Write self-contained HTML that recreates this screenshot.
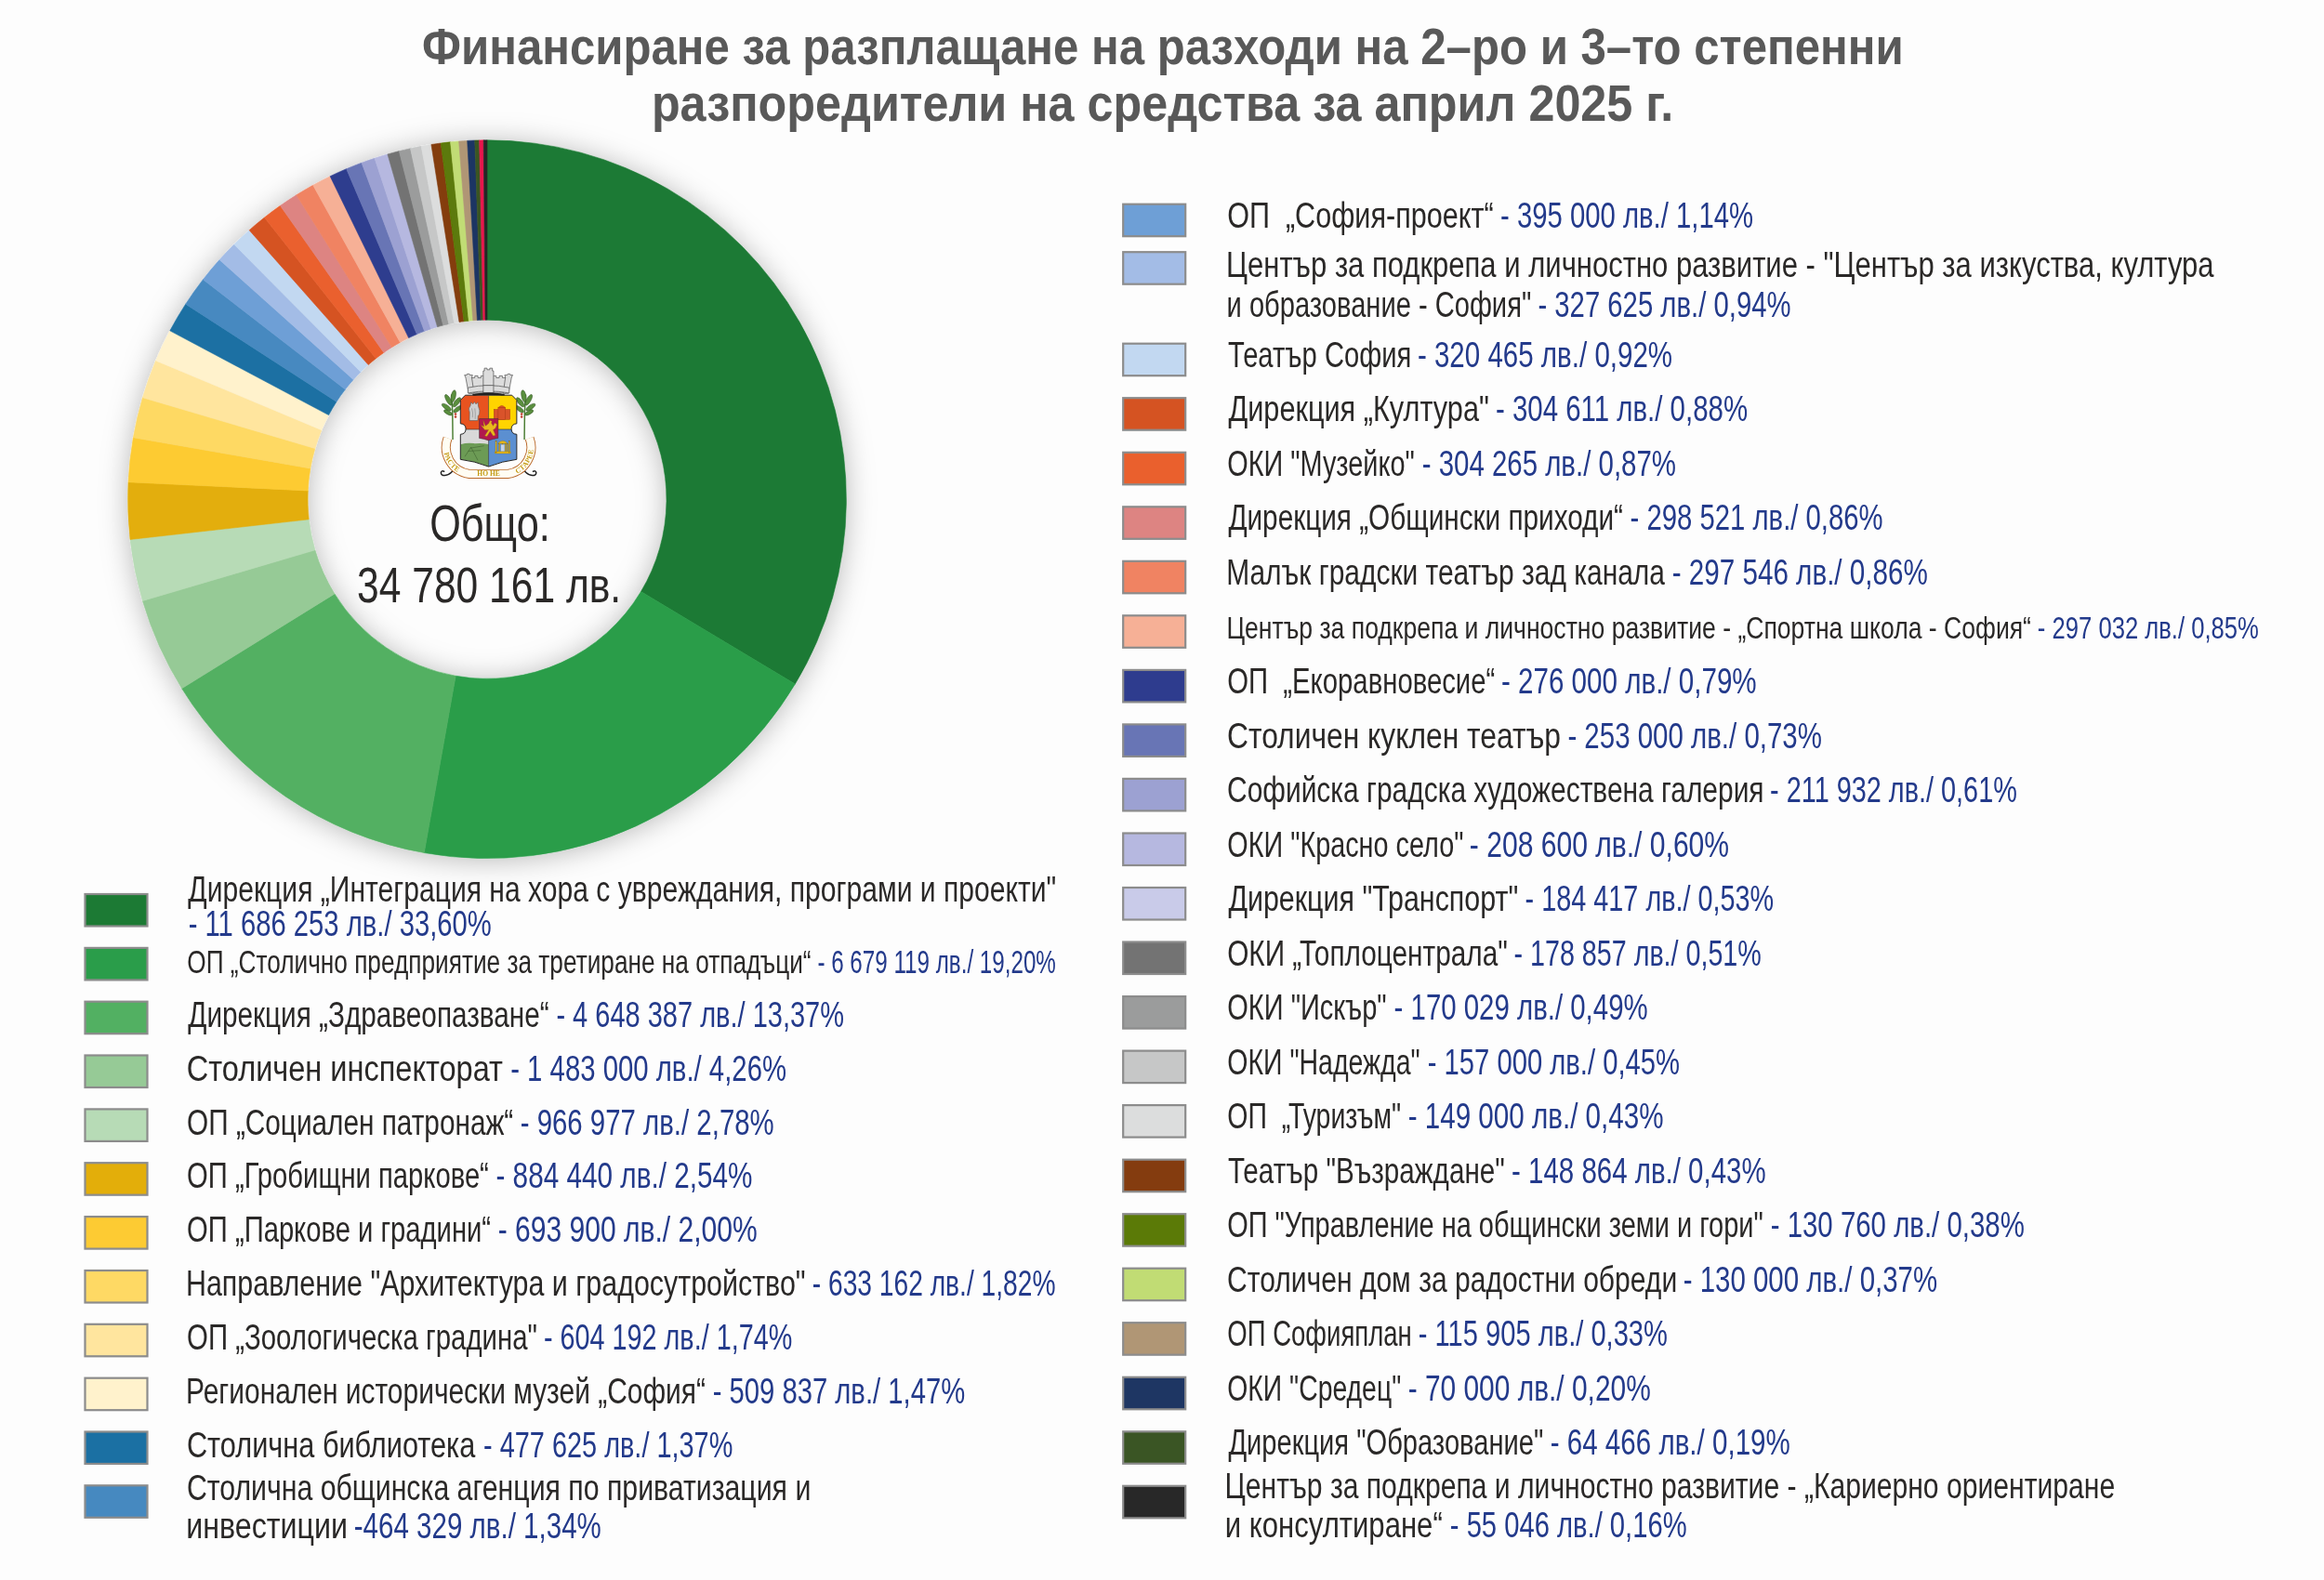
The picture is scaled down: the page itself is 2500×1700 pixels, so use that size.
<!DOCTYPE html>
<html><head><meta charset="utf-8"><title>Финансиране</title>
<style>
html,body{margin:0;padding:0;background:#fdfdfd;}
body{width:2500px;height:1700px;overflow:hidden;}
svg{display:block;font-family:"Liberation Sans",sans-serif;will-change:transform;}
</style></head><body>
<svg width="2500" height="1700" viewBox="0 0 2500 1700">
<defs>
<filter id="sh" x="-20%" y="-20%" width="140%" height="140%">
<feGaussianBlur in="SourceAlpha" stdDeviation="15"/>
<feOffset dx="0" dy="2" result="b"/>
<feFlood flood-color="#000" flood-opacity="0.27"/>
<feComposite in2="b" operator="in"/>
<feMerge><feMergeNode/><feMergeNode in="SourceGraphic"/></feMerge>
</filter>
</defs>
<rect width="2500" height="1700" fill="#fdfdfd"/>
<g filter="url(#sh)"><path d="M524.00 150.80A386.4 386.4 0 0 1 855.34 735.99L689.50 636.49A193.0 193.0 0 0 0 524.00 344.20Z" fill="#1c7a34" stroke="#1c7a34" stroke-width="0.6"/><path d="M855.34 735.99A386.4 386.4 0 0 1 456.27 917.62L490.17 727.21A193.0 193.0 0 0 0 689.50 636.49Z" fill="#2a9d4a" stroke="#2a9d4a" stroke-width="0.6"/><path d="M456.27 917.62A386.4 386.4 0 0 1 195.57 740.76L359.95 638.88A193.0 193.0 0 0 0 490.17 727.21Z" fill="#52b062" stroke="#52b062" stroke-width="0.6"/><path d="M195.57 740.76A386.4 386.4 0 0 1 153.40 646.56L338.89 591.82A193.0 193.0 0 0 0 359.95 638.88Z" fill="#96ca96" stroke="#96ca96" stroke-width="0.6"/><path d="M153.40 646.56A386.4 386.4 0 0 1 140.03 580.48L332.21 558.82A193.0 193.0 0 0 0 338.89 591.82Z" fill="#b7dbb6" stroke="#b7dbb6" stroke-width="0.6"/><path d="M140.03 580.48A386.4 386.4 0 0 1 138.04 518.84L331.22 528.03A193.0 193.0 0 0 0 332.21 558.82Z" fill="#e3ae0a" stroke="#e3ae0a" stroke-width="0.6"/><path d="M138.04 518.84A386.4 386.4 0 0 1 143.36 470.73L333.88 504.00A193.0 193.0 0 0 0 331.22 528.03Z" fill="#fdcb33" stroke="#fdcb33" stroke-width="0.6"/><path d="M143.36 470.73A386.4 386.4 0 0 1 153.43 427.72L338.91 482.52A193.0 193.0 0 0 0 333.88 504.00Z" fill="#fed964" stroke="#fed964" stroke-width="0.6"/><path d="M153.43 427.72A386.4 386.4 0 0 1 167.56 388.01L345.97 462.68A193.0 193.0 0 0 0 338.91 482.52Z" fill="#ffe59e" stroke="#ffe59e" stroke-width="0.6"/><path d="M167.56 388.01A386.4 386.4 0 0 1 182.80 355.86L353.58 446.62A193.0 193.0 0 0 0 345.97 462.68Z" fill="#fff2cc" stroke="#fff2cc" stroke-width="0.6"/><path d="M182.80 355.86A386.4 386.4 0 0 1 199.69 327.13L362.01 432.27A193.0 193.0 0 0 0 353.58 446.62Z" fill="#1b70a3" stroke="#1b70a3" stroke-width="0.6"/><path d="M199.69 327.13A386.4 386.4 0 0 1 218.44 300.69L371.38 419.07A193.0 193.0 0 0 0 362.01 432.27Z" fill="#4689c0" stroke="#4689c0" stroke-width="0.6"/><path d="M218.44 300.69A386.4 386.4 0 0 1 236.08 279.51L380.19 408.49A193.0 193.0 0 0 0 371.38 419.07Z" fill="#6e9fd6" stroke="#6e9fd6" stroke-width="0.6"/><path d="M236.08 279.51A386.4 386.4 0 0 1 251.82 262.93L388.05 400.21A193.0 193.0 0 0 0 380.19 408.49Z" fill="#a3bce6" stroke="#a3bce6" stroke-width="0.6"/><path d="M251.82 262.93A386.4 386.4 0 0 1 268.15 247.64L396.21 392.57A193.0 193.0 0 0 0 388.05 400.21Z" fill="#c2d8f1" stroke="#c2d8f1" stroke-width="0.6"/><path d="M268.15 247.64A386.4 386.4 0 0 1 284.46 234.01L404.35 385.76A193.0 193.0 0 0 0 396.21 392.57Z" fill="#d55322" stroke="#d55322" stroke-width="0.6"/><path d="M284.46 234.01A386.4 386.4 0 0 1 301.48 221.30L412.86 379.42A193.0 193.0 0 0 0 404.35 385.76Z" fill="#ea602d" stroke="#ea602d" stroke-width="0.6"/><path d="M301.48 221.30A386.4 386.4 0 0 1 318.83 209.77L421.52 373.65A193.0 193.0 0 0 0 412.86 379.42Z" fill="#dd8482" stroke="#dd8482" stroke-width="0.6"/><path d="M318.83 209.77A386.4 386.4 0 0 1 336.72 199.22L430.46 368.38A193.0 193.0 0 0 0 421.52 373.65Z" fill="#f08362" stroke="#f08362" stroke-width="0.6"/><path d="M336.72 199.22A386.4 386.4 0 0 1 355.12 189.66L439.65 363.61A193.0 193.0 0 0 0 430.46 368.38Z" fill="#f6b096" stroke="#f6b096" stroke-width="0.6"/><path d="M355.12 189.66A386.4 386.4 0 0 1 372.65 181.68L448.40 359.62A193.0 193.0 0 0 0 439.65 363.61Z" fill="#2e3c8e" stroke="#2e3c8e" stroke-width="0.6"/><path d="M372.65 181.68A386.4 386.4 0 0 1 389.05 175.13L456.59 356.35A193.0 193.0 0 0 0 448.40 359.62Z" fill="#6875b5" stroke="#6875b5" stroke-width="0.6"/><path d="M389.05 175.13A386.4 386.4 0 0 1 403.01 170.23L463.57 353.91A193.0 193.0 0 0 0 456.59 356.35Z" fill="#9ca1d2" stroke="#9ca1d2" stroke-width="0.6"/><path d="M403.01 170.23A386.4 386.4 0 0 1 416.92 165.93L470.52 351.76A193.0 193.0 0 0 0 463.57 353.91Z" fill="#b6b8e0" stroke="#b6b8e0" stroke-width="0.6"/><path d="M416.92 165.93A386.4 386.4 0 0 1 429.35 162.57L476.72 350.08A193.0 193.0 0 0 0 470.52 351.76Z" fill="#737373" stroke="#737373" stroke-width="0.6"/><path d="M429.35 162.57A386.4 386.4 0 0 1 441.50 159.71L482.79 348.65A193.0 193.0 0 0 0 476.72 350.08Z" fill="#9b9c9c" stroke="#9b9c9c" stroke-width="0.6"/><path d="M441.50 159.71A386.4 386.4 0 0 1 453.13 157.35L488.60 347.47A193.0 193.0 0 0 0 482.79 348.65Z" fill="#c6c7c7" stroke="#c6c7c7" stroke-width="0.6"/><path d="M453.13 157.35A386.4 386.4 0 0 1 463.93 155.50L494.00 346.55A193.0 193.0 0 0 0 488.60 347.47Z" fill="#dcdddd" stroke="#dcdddd" stroke-width="0.6"/><path d="M463.93 155.50A386.4 386.4 0 0 1 474.23 154.02L499.14 345.81A193.0 193.0 0 0 0 494.00 346.55Z" fill="#843c0f" stroke="#843c0f" stroke-width="0.6"/><path d="M474.23 154.02A386.4 386.4 0 0 1 484.55 152.82L504.29 345.21A193.0 193.0 0 0 0 499.14 345.81Z" fill="#5b7a07" stroke="#5b7a07" stroke-width="0.6"/><path d="M484.55 152.82A386.4 386.4 0 0 1 493.64 151.99L508.83 344.80A193.0 193.0 0 0 0 504.29 345.21Z" fill="#c1dc74" stroke="#c1dc74" stroke-width="0.6"/><path d="M493.64 151.99A386.4 386.4 0 0 1 502.69 151.39L513.36 344.49A193.0 193.0 0 0 0 508.83 344.80Z" fill="#b09675" stroke="#b09675" stroke-width="0.6"/><path d="M502.69 151.39A386.4 386.4 0 0 1 510.77 151.03L517.39 344.31A193.0 193.0 0 0 0 513.36 344.49Z" fill="#1e3663" stroke="#1e3663" stroke-width="0.6"/><path d="M510.77 151.03A386.4 386.4 0 0 1 515.66 150.89L519.83 344.24A193.0 193.0 0 0 0 517.39 344.31Z" fill="#3a5524" stroke="#3a5524" stroke-width="0.6"/><path d="M515.66 150.89A386.4 386.4 0 0 1 520.16 150.82L522.08 344.21A193.0 193.0 0 0 0 519.83 344.24Z" fill="#e8194d" stroke="#e8194d" stroke-width="0.6"/><path d="M520.16 150.82A386.4 386.4 0 0 1 524.00 150.80L524.00 344.20A193.0 193.0 0 0 0 522.08 344.21Z" fill="#282828" stroke="#282828" stroke-width="0.6"/></g>
<g transform="translate(468,390) scale(0.08227)">
<defs>
<clipPath id="shc"><path d="M395 428 L1005 428 L1068 492 L1068 800 Q998 805 998 870 Q998 935 1068 940 L1068 1268 Q880 1290 700 1362 Q520 1290 332 1268 L332 940 Q402 935 402 870 Q402 805 332 800 L332 492 Z"/></clipPath>
<path id="rib" d="M165 990 C95 1180 200 1420 450 1458 L950 1458 C1200 1420 1305 1180 1235 990"/>
</defs>
<!-- curls -->
<g fill="none" stroke="#222" stroke-width="18" stroke-linecap="round">
<path d="M250 1390 Q200 1470 130 1478 Q75 1478 78 1440 Q85 1410 118 1425"/>
<path d="M1150 1390 Q1200 1470 1270 1478 Q1325 1478 1322 1440 Q1315 1410 1282 1425"/>
</g>
<!-- laurel branches -->
<path d="M232 1010 L228 640 L215 420" fill="none" stroke="#4d7f35" stroke-width="18"/>
<path d="M1168 1010 L1172 640 L1185 420" fill="none" stroke="#4d7f35" stroke-width="18"/>
<g fill="#5a8f3e" stroke="#2f4f22" stroke-width="6">
<ellipse cx="240" cy="440" rx="30" ry="80" transform="rotate(12 240 440)"/>
<ellipse cx="175" cy="490" rx="28" ry="80" transform="rotate(-30 175 490)"/>
<ellipse cx="285" cy="520" rx="28" ry="75" transform="rotate(38 285 520)"/>
<ellipse cx="150" cy="585" rx="28" ry="72" transform="rotate(-55 150 585)"/>
<ellipse cx="295" cy="610" rx="26" ry="66" transform="rotate(52 295 610)"/>
<ellipse cx="170" cy="655" rx="24" ry="60" transform="rotate(-62 170 655)"/>
<ellipse cx="1160" cy="440" rx="30" ry="80" transform="rotate(-12 1160 440)"/>
<ellipse cx="1225" cy="490" rx="28" ry="80" transform="rotate(30 1225 490)"/>
<ellipse cx="1115" cy="520" rx="28" ry="75" transform="rotate(-38 1115 520)"/>
<ellipse cx="1250" cy="585" rx="28" ry="72" transform="rotate(55 1250 585)"/>
<ellipse cx="1105" cy="610" rx="26" ry="66" transform="rotate(-52 1105 610)"/>
<ellipse cx="1230" cy="655" rx="24" ry="60" transform="rotate(62 1230 655)"/>
</g>
<circle cx="268" cy="675" r="15" fill="#c0392b"/><circle cx="268" cy="712" r="15" fill="#c0392b"/>
<circle cx="1132" cy="675" r="15" fill="#c0392b"/><circle cx="1132" cy="712" r="15" fill="#c0392b"/>
<!-- crown -->
<g fill="#dcdcdc" stroke="#555" stroke-width="9">
<path d="M470 400 L470 200 L520 200 L520 175 L560 175 L560 200 L600 200 L600 175 L640 175 L640 400 Z"/>
<path d="M760 400 L760 175 L800 175 L800 200 L840 200 L840 175 L880 175 L880 200 L930 200 L930 400 Z"/>
<path d="M440 405 L400 195 L385 165 L415 165 L420 150 L450 150 L455 165 L490 165 L480 195 L510 405 Z"/>
<path d="M960 405 L1000 195 L1015 165 L985 165 L980 150 L950 150 L945 165 L910 165 L920 195 L890 405 Z"/>
<path d="M630 395 L630 110 L645 110 L645 75 L680 75 L680 95 L715 95 L715 75 L750 75 L750 110 L765 110 L765 395 Z"/>
<path d="M430 330 Q700 270 970 330 L970 400 Q700 350 430 400 Z"/>
<path d="M630 300 L765 300 L765 395 L630 395 Z"/>
</g>
<ellipse cx="700" cy="425" rx="215" ry="30" fill="#222"/>
<ellipse cx="700" cy="440" rx="175" ry="15" fill="#fff"/>
<!-- shield -->
<g clip-path="url(#shc)">
<rect x="300" y="400" width="400" height="475" fill="#e8531f"/>
<rect x="700" y="400" width="400" height="475" fill="#ffd400"/>
<rect x="300" y="875" width="400" height="500" fill="#d9d9d9"/>
<path d="M300 1080 Q420 1040 520 1060 Q620 1050 700 1070 L700 1400 L300 1400 Z" fill="#6c9b55"/>
<rect x="700" y="875" width="400" height="500" fill="#5b8fd1"/>
<path d="M390 1230 L470 1110 L560 1280 M460 1120 L640 1090 M430 1160 L600 1150" fill="none" stroke="#3a5a2a" stroke-width="6"/>
<path d="M700 428 L700 1362 M300 875 L1100 875" stroke="#222" stroke-width="7"/>
</g>
<path d="M395 428 L1005 428 L1068 492 L1068 800 Q998 805 998 870 Q998 935 1068 940 L1068 1268 Q880 1290 700 1362 Q520 1290 332 1268 L332 940 Q402 935 402 870 Q402 805 332 800 L332 492 Z" fill="none" stroke="#222" stroke-width="12"/>
<!-- head figure -->
<path d="M450 760 L452 650 Q428 600 462 565 L470 520 L495 545 L515 515 L535 545 L560 520 L566 575 Q592 625 578 680 L562 700 L558 760 Z" fill="#cfcfcf" stroke="#555" stroke-width="7"/>
<path d="M480 600 Q500 650 490 720 M520 600 Q530 660 525 740" fill="none" stroke="#777" stroke-width="6"/>
<!-- church -->
<g fill="#d9532a" stroke="#a83a15" stroke-width="6">
<rect x="770" y="615" width="210" height="130"/>
<rect x="825" y="585" width="95" height="160"/>
<path d="M830 590 Q872 540 915 590 Z"/>
</g>
<!-- center shield -->
<path d="M578 735 L825 735 L825 990 Q760 1000 700 1020 Q640 1000 578 990 Z" fill="#b1184d" stroke="#333" stroke-width="6"/>
<path d="M630 760 L640 840 L600 820 L650 880 L700 880 L650 960 L680 965 L720 900 L760 960 L790 950 L760 880 L790 860 L810 810 L780 790 L760 830 L735 790 L745 770 L720 760 L700 800 L660 830 Z" fill="#e9b81e" stroke="#8a6a10" stroke-width="4"/>
<!-- gazebo -->
<g fill="#e8b919" stroke="#8a6a10" stroke-width="4">
<path d="M820 1060 Q885 990 950 1060 Z"/>
<rect x="835" y="1060" width="12" height="110"/><rect x="875" y="1060" width="12" height="110"/><rect x="915" y="1060" width="12" height="110"/><rect x="940" y="1060" width="12" height="110"/>
<rect x="780" y="1165" width="210" height="25" rx="10"/>
<rect x="790" y="1030" width="14" height="150"/><rect x="965" y="1030" width="14" height="150"/>
</g>
<rect x="862" y="1075" width="45" height="85" fill="#c8d4e4"/>
<!-- ribbon -->
<use href="#rib" fill="none" stroke="#b9682a" stroke-width="122"/>
<use href="#rib" fill="none" stroke="#fffdf3" stroke-width="100"/>
<g font-family="Liberation Serif" font-size="92" fill="#c49a12" font-weight="700" text-anchor="middle">
<text><textPath href="#rib" startOffset="19%" dominant-baseline="central">РАСТЕ</textPath></text>
<text><textPath href="#rib" startOffset="50%" dominant-baseline="central">НО НЕ</textPath></text>
<text><textPath href="#rib" startOffset="81%" dominant-baseline="central">СТАРЕЕ</textPath></text>
</g>
</g>

<rect x="91.5" y="962.0" width="67" height="34.5" fill="#1c7a34" stroke="#8c8c8c" stroke-width="2.2"/><rect x="91.5" y="1019.9" width="67" height="34.5" fill="#2a9d4a" stroke="#8c8c8c" stroke-width="2.2"/><rect x="91.5" y="1077.7" width="67" height="34.5" fill="#52b062" stroke="#8c8c8c" stroke-width="2.2"/><rect x="91.5" y="1135.5" width="67" height="34.5" fill="#96ca96" stroke="#8c8c8c" stroke-width="2.2"/><rect x="91.5" y="1193.4" width="67" height="34.5" fill="#b7dbb6" stroke="#8c8c8c" stroke-width="2.2"/><rect x="91.5" y="1251.2" width="67" height="34.5" fill="#e3ae0a" stroke="#8c8c8c" stroke-width="2.2"/><rect x="91.5" y="1309.1" width="67" height="34.5" fill="#fdcb33" stroke="#8c8c8c" stroke-width="2.2"/><rect x="91.5" y="1367.0" width="67" height="34.5" fill="#fed964" stroke="#8c8c8c" stroke-width="2.2"/><rect x="91.5" y="1424.8" width="67" height="34.5" fill="#ffe59e" stroke="#8c8c8c" stroke-width="2.2"/><rect x="91.5" y="1482.7" width="67" height="34.5" fill="#fff2cc" stroke="#8c8c8c" stroke-width="2.2"/><rect x="91.5" y="1540.5" width="67" height="34.5" fill="#1b70a3" stroke="#8c8c8c" stroke-width="2.2"/><rect x="91.5" y="1598.3" width="67" height="34.5" fill="#4689c0" stroke="#8c8c8c" stroke-width="2.2"/><rect x="1208.2" y="219.7" width="67" height="34.5" fill="#6e9fd6" stroke="#8c8c8c" stroke-width="2.2"/><rect x="1208.2" y="271.2" width="67" height="34.5" fill="#a3bce6" stroke="#8c8c8c" stroke-width="2.2"/><rect x="1208.2" y="369.7" width="67" height="34.5" fill="#c2d8f1" stroke="#8c8c8c" stroke-width="2.2"/><rect x="1208.2" y="428.2" width="67" height="34.5" fill="#d55322" stroke="#8c8c8c" stroke-width="2.2"/><rect x="1208.2" y="486.8" width="67" height="34.5" fill="#ea602d" stroke="#8c8c8c" stroke-width="2.2"/><rect x="1208.2" y="545.3" width="67" height="34.5" fill="#dd8482" stroke="#8c8c8c" stroke-width="2.2"/><rect x="1208.2" y="603.8" width="67" height="34.5" fill="#f08362" stroke="#8c8c8c" stroke-width="2.2"/><rect x="1208.2" y="662.3" width="67" height="34.5" fill="#f6b096" stroke="#8c8c8c" stroke-width="2.2"/><rect x="1208.2" y="720.9" width="67" height="34.5" fill="#2e3c8e" stroke="#8c8c8c" stroke-width="2.2"/><rect x="1208.2" y="779.4" width="67" height="34.5" fill="#6875b5" stroke="#8c8c8c" stroke-width="2.2"/><rect x="1208.2" y="837.9" width="67" height="34.5" fill="#9ca1d2" stroke="#8c8c8c" stroke-width="2.2"/><rect x="1208.2" y="896.5" width="67" height="34.5" fill="#b6b8e0" stroke="#8c8c8c" stroke-width="2.2"/><rect x="1208.2" y="955.0" width="67" height="34.5" fill="#c9cbe9" stroke="#8c8c8c" stroke-width="2.2"/><rect x="1208.2" y="1013.5" width="67" height="34.5" fill="#737373" stroke="#8c8c8c" stroke-width="2.2"/><rect x="1208.2" y="1072.1" width="67" height="34.5" fill="#9b9c9c" stroke="#8c8c8c" stroke-width="2.2"/><rect x="1208.2" y="1130.6" width="67" height="34.5" fill="#c6c7c7" stroke="#8c8c8c" stroke-width="2.2"/><rect x="1208.2" y="1189.1" width="67" height="34.5" fill="#dcdddd" stroke="#8c8c8c" stroke-width="2.2"/><rect x="1208.2" y="1247.7" width="67" height="34.5" fill="#843c0f" stroke="#8c8c8c" stroke-width="2.2"/><rect x="1208.2" y="1306.2" width="67" height="34.5" fill="#5b7a07" stroke="#8c8c8c" stroke-width="2.2"/><rect x="1208.2" y="1364.7" width="67" height="34.5" fill="#c1dc74" stroke="#8c8c8c" stroke-width="2.2"/><rect x="1208.2" y="1423.2" width="67" height="34.5" fill="#b09675" stroke="#8c8c8c" stroke-width="2.2"/><rect x="1208.2" y="1481.8" width="67" height="34.5" fill="#1e3663" stroke="#8c8c8c" stroke-width="2.2"/><rect x="1208.2" y="1540.3" width="67" height="34.5" fill="#3a5524" stroke="#8c8c8c" stroke-width="2.2"/><rect x="1208.2" y="1598.8" width="67" height="34.5" fill="#282828" stroke="#8c8c8c" stroke-width="2.2"/>
<text x="454.10" y="69.00" font-size="56.00" font-weight="700" fill="#595959" textLength="1593.51" lengthAdjust="spacingAndGlyphs" xml:space="preserve">Финансиране за разплащане на разходи на 2–ро и 3–то степенни</text>
<text x="700.89" y="129.60" font-size="56.00" font-weight="700" fill="#595959" textLength="1099.28" lengthAdjust="spacingAndGlyphs" xml:space="preserve">разпоредители на средства за април 2025 г.</text>
<text x="462.15" y="582.10" font-size="55.50" font-weight="400" fill="#2a2827" textLength="129.60" lengthAdjust="spacingAndGlyphs" xml:space="preserve">Общо:</text>
<text x="384.08" y="648.40" font-size="54.50" font-weight="400" fill="#2a2827" textLength="284.11" lengthAdjust="spacingAndGlyphs" xml:space="preserve">34 780 161 лв.</text>
<text x="202.28" y="969.90" font-size="38.50" font-weight="400" fill="#2a2827" textLength="934.00" lengthAdjust="spacingAndGlyphs" xml:space="preserve">Дирекция „Интеграция на хора с увреждания, програми и проекти&quot;</text>
<text x="202.70" y="1006.60" font-size="38.50" font-weight="400" fill="#233a8b" textLength="326.04" lengthAdjust="spacingAndGlyphs" xml:space="preserve">- 11 686 253 лв./ 33,60%</text>
<text x="201.26" y="1047.00" font-size="35.00" font-weight="400" fill="#2a2827" textLength="671.30" lengthAdjust="spacingAndGlyphs" xml:space="preserve">ОП „Столично предприятие за третиране на отпадъци“</text>
<text x="879.43" y="1047.00" font-size="35.00" font-weight="400" fill="#233a8b" textLength="256.44" lengthAdjust="spacingAndGlyphs" xml:space="preserve">- 6 679 119 лв./ 19,20%</text>
<text x="202.28" y="1104.85" font-size="38.50" font-weight="400" fill="#2a2827" textLength="388.41" lengthAdjust="spacingAndGlyphs" xml:space="preserve">Дирекция „Здравеопазване“</text>
<text x="598.41" y="1104.85" font-size="38.50" font-weight="400" fill="#233a8b" textLength="309.62" lengthAdjust="spacingAndGlyphs" xml:space="preserve">- 4 648 387 лв./ 13,37%</text>
<text x="200.85" y="1162.70" font-size="38.50" font-weight="400" fill="#2a2827" textLength="340.11" lengthAdjust="spacingAndGlyphs" xml:space="preserve">Столичен инспекторат</text>
<text x="549.20" y="1162.70" font-size="38.50" font-weight="400" fill="#233a8b" textLength="296.85" lengthAdjust="spacingAndGlyphs" xml:space="preserve">- 1 483 000 лв./ 4,26%</text>
<text x="201.09" y="1220.55" font-size="38.50" font-weight="400" fill="#2a2827" textLength="351.20" lengthAdjust="spacingAndGlyphs" xml:space="preserve">ОП „Социален патронаж“</text>
<text x="559.69" y="1220.55" font-size="38.50" font-weight="400" fill="#233a8b" textLength="273.05" lengthAdjust="spacingAndGlyphs" xml:space="preserve">- 966 977 лв./ 2,78%</text>
<text x="201.12" y="1278.40" font-size="38.50" font-weight="400" fill="#2a2827" textLength="324.75" lengthAdjust="spacingAndGlyphs" xml:space="preserve">ОП „Гробищни паркове“</text>
<text x="533.48" y="1278.40" font-size="38.50" font-weight="400" fill="#233a8b" textLength="275.98" lengthAdjust="spacingAndGlyphs" xml:space="preserve">- 884 440 лв./ 2,54%</text>
<text x="201.12" y="1336.25" font-size="38.50" font-weight="400" fill="#2a2827" textLength="326.95" lengthAdjust="spacingAndGlyphs" xml:space="preserve">ОП „Паркове и градини“</text>
<text x="535.77" y="1336.25" font-size="38.50" font-weight="400" fill="#233a8b" textLength="278.90" lengthAdjust="spacingAndGlyphs" xml:space="preserve">- 693 900 лв./ 2,00%</text>
<text x="200.01" y="1394.10" font-size="38.50" font-weight="400" fill="#2a2827" textLength="666.59" lengthAdjust="spacingAndGlyphs" xml:space="preserve">Направление &quot;Архитектура и градосутройство&quot;</text>
<text x="873.75" y="1394.10" font-size="38.50" font-weight="400" fill="#233a8b" textLength="261.76" lengthAdjust="spacingAndGlyphs" xml:space="preserve">- 633 162 лв./ 1,82%</text>
<text x="201.11" y="1451.95" font-size="38.50" font-weight="400" fill="#2a2827" textLength="376.84" lengthAdjust="spacingAndGlyphs" xml:space="preserve">ОП „Зоологическа градина&quot;</text>
<text x="585.02" y="1451.95" font-size="38.50" font-weight="400" fill="#233a8b" textLength="267.20" lengthAdjust="spacingAndGlyphs" xml:space="preserve">- 604 192 лв./ 1,74%</text>
<text x="200.04" y="1509.80" font-size="38.50" font-weight="400" fill="#2a2827" textLength="558.95" lengthAdjust="spacingAndGlyphs" xml:space="preserve">Регионален исторически музей „София“</text>
<text x="766.70" y="1509.80" font-size="38.50" font-weight="400" fill="#233a8b" textLength="271.44" lengthAdjust="spacingAndGlyphs" xml:space="preserve">- 509 837 лв./ 1,47%</text>
<text x="200.94" y="1567.65" font-size="38.50" font-weight="400" fill="#2a2827" textLength="310.36" lengthAdjust="spacingAndGlyphs" xml:space="preserve">Столична библиотека</text>
<text x="520.12" y="1567.65" font-size="38.50" font-weight="400" fill="#233a8b" textLength="268.21" lengthAdjust="spacingAndGlyphs" xml:space="preserve">- 477 625 лв./ 1,37%</text>
<text x="200.96" y="1614.30" font-size="38.50" font-weight="400" fill="#2a2827" textLength="671.33" lengthAdjust="spacingAndGlyphs" xml:space="preserve">Столична общинска агенция по приватизация и</text>
<text x="200.27" y="1654.80" font-size="38.50" font-weight="400" fill="#2a2827" textLength="173.77" lengthAdjust="spacingAndGlyphs" xml:space="preserve">инвестиции</text>
<text x="380.79" y="1654.80" font-size="38.50" font-weight="400" fill="#233a8b" textLength="266.06" lengthAdjust="spacingAndGlyphs" xml:space="preserve">-464 329 лв./ 1,34%</text>
<text x="1320.15" y="245.00" font-size="38.50" font-weight="400" fill="#2a2827" textLength="286.47" lengthAdjust="spacingAndGlyphs" xml:space="preserve">ОП  „София-проект“</text>
<text x="1614.10" y="245.00" font-size="38.50" font-weight="400" fill="#233a8b" textLength="271.94" lengthAdjust="spacingAndGlyphs" xml:space="preserve">- 395 000 лв./ 1,14%</text>
<text x="1319.05" y="298.00" font-size="38.50" font-weight="400" fill="#2a2827" textLength="1062.55" lengthAdjust="spacingAndGlyphs" xml:space="preserve">Център за подкрепа и личностно развитие - &quot;Център за изкуства, култура</text>
<text x="1319.58" y="341.00" font-size="38.50" font-weight="400" fill="#2a2827" textLength="327.65" lengthAdjust="spacingAndGlyphs" xml:space="preserve">и образование - София&quot;</text>
<text x="1654.40" y="341.00" font-size="38.50" font-weight="400" fill="#233a8b" textLength="272.15" lengthAdjust="spacingAndGlyphs" xml:space="preserve">- 327 625 лв./ 0,94%</text>
<text x="1320.94" y="394.80" font-size="38.50" font-weight="400" fill="#2a2827" textLength="197.38" lengthAdjust="spacingAndGlyphs" xml:space="preserve">Театър София</text>
<text x="1524.89" y="394.80" font-size="38.50" font-weight="400" fill="#233a8b" textLength="274.26" lengthAdjust="spacingAndGlyphs" xml:space="preserve">- 320 465 лв./ 0,92%</text>
<text x="1321.38" y="453.33" font-size="38.50" font-weight="400" fill="#2a2827" textLength="280.53" lengthAdjust="spacingAndGlyphs" xml:space="preserve">Дирекция „Култура&quot;</text>
<text x="1608.99" y="453.33" font-size="38.50" font-weight="400" fill="#233a8b" textLength="271.06" lengthAdjust="spacingAndGlyphs" xml:space="preserve">- 304 611 лв./ 0,88%</text>
<text x="1320.23" y="511.86" font-size="38.50" font-weight="400" fill="#2a2827" textLength="201.49" lengthAdjust="spacingAndGlyphs" xml:space="preserve">ОКИ &quot;Музейко&quot;</text>
<text x="1529.69" y="511.86" font-size="38.50" font-weight="400" fill="#233a8b" textLength="273.26" lengthAdjust="spacingAndGlyphs" xml:space="preserve">- 304 265 лв./ 0,87%</text>
<text x="1321.38" y="570.39" font-size="38.50" font-weight="400" fill="#2a2827" textLength="424.61" lengthAdjust="spacingAndGlyphs" xml:space="preserve">Дирекция „Общински приходи“</text>
<text x="1753.50" y="570.39" font-size="38.50" font-weight="400" fill="#233a8b" textLength="272.15" lengthAdjust="spacingAndGlyphs" xml:space="preserve">- 298 521 лв./ 0,86%</text>
<text x="1319.14" y="628.92" font-size="38.50" font-weight="400" fill="#2a2827" textLength="471.86" lengthAdjust="spacingAndGlyphs" xml:space="preserve">Малък градски театър зад канала</text>
<text x="1798.68" y="628.92" font-size="38.50" font-weight="400" fill="#233a8b" textLength="275.17" lengthAdjust="spacingAndGlyphs" xml:space="preserve">- 297 546 лв./ 0,86%</text>
<text x="1319.42" y="687.45" font-size="33.50" font-weight="400" fill="#2a2827" textLength="865.55" lengthAdjust="spacingAndGlyphs" xml:space="preserve">Център за подкрепа и личностно развитие - „Спортна школа - София“</text>
<text x="2191.86" y="687.45" font-size="33.50" font-weight="400" fill="#233a8b" textLength="238.05" lengthAdjust="spacingAndGlyphs" xml:space="preserve">- 297 032 лв./ 0,85%</text>
<text x="1320.21" y="745.98" font-size="38.50" font-weight="400" fill="#2a2827" textLength="288.06" lengthAdjust="spacingAndGlyphs" xml:space="preserve">ОП  „Екоравновесие“</text>
<text x="1614.99" y="745.98" font-size="38.50" font-weight="400" fill="#233a8b" textLength="274.67" lengthAdjust="spacingAndGlyphs" xml:space="preserve">- 276 000 лв./ 0,79%</text>
<text x="1319.99" y="804.51" font-size="38.50" font-weight="400" fill="#2a2827" textLength="359.05" lengthAdjust="spacingAndGlyphs" xml:space="preserve">Столичен куклен театър</text>
<text x="1686.39" y="804.51" font-size="38.50" font-weight="400" fill="#233a8b" textLength="273.56" lengthAdjust="spacingAndGlyphs" xml:space="preserve">- 253 000 лв./ 0,73%</text>
<text x="1320.08" y="863.04" font-size="38.50" font-weight="400" fill="#2a2827" textLength="577.49" lengthAdjust="spacingAndGlyphs" xml:space="preserve">Софийска градска художествена галерия</text>
<text x="1904.12" y="863.04" font-size="38.50" font-weight="400" fill="#233a8b" textLength="265.71" lengthAdjust="spacingAndGlyphs" xml:space="preserve">- 211 932 лв./ 0,61%</text>
<text x="1320.24" y="921.57" font-size="38.50" font-weight="400" fill="#2a2827" textLength="254.19" lengthAdjust="spacingAndGlyphs" xml:space="preserve">ОКИ &quot;Красно село&quot;</text>
<text x="1580.86" y="921.57" font-size="38.50" font-weight="400" fill="#233a8b" textLength="279.21" lengthAdjust="spacingAndGlyphs" xml:space="preserve">- 208 600 лв./ 0,60%</text>
<text x="1321.38" y="980.10" font-size="38.50" font-weight="400" fill="#2a2827" textLength="311.81" lengthAdjust="spacingAndGlyphs" xml:space="preserve">Дирекция &quot;Транспорт&quot;</text>
<text x="1640.62" y="980.10" font-size="38.50" font-weight="400" fill="#233a8b" textLength="267.61" lengthAdjust="spacingAndGlyphs" xml:space="preserve">- 184 417 лв./ 0,53%</text>
<text x="1320.19" y="1038.63" font-size="38.50" font-weight="400" fill="#2a2827" textLength="301.58" lengthAdjust="spacingAndGlyphs" xml:space="preserve">ОКИ „Топлоцентрала&quot;</text>
<text x="1628.53" y="1038.63" font-size="38.50" font-weight="400" fill="#233a8b" textLength="266.30" lengthAdjust="spacingAndGlyphs" xml:space="preserve">- 178 857 лв./ 0,51%</text>
<text x="1320.23" y="1097.16" font-size="38.50" font-weight="400" fill="#2a2827" textLength="171.41" lengthAdjust="spacingAndGlyphs" xml:space="preserve">ОКИ &quot;Искър&quot;</text>
<text x="1499.59" y="1097.16" font-size="38.50" font-weight="400" fill="#233a8b" textLength="273.05" lengthAdjust="spacingAndGlyphs" xml:space="preserve">- 170 029 лв./ 0,49%</text>
<text x="1320.25" y="1155.69" font-size="38.50" font-weight="400" fill="#2a2827" textLength="207.46" lengthAdjust="spacingAndGlyphs" xml:space="preserve">ОКИ &quot;Надежда&quot;</text>
<text x="1535.70" y="1155.69" font-size="38.50" font-weight="400" fill="#233a8b" textLength="271.34" lengthAdjust="spacingAndGlyphs" xml:space="preserve">- 157 000 лв./ 0,45%</text>
<text x="1320.25" y="1214.22" font-size="38.50" font-weight="400" fill="#2a2827" textLength="186.96" lengthAdjust="spacingAndGlyphs" xml:space="preserve">ОП  „Туризъм&quot;</text>
<text x="1514.68" y="1214.22" font-size="38.50" font-weight="400" fill="#233a8b" textLength="274.87" lengthAdjust="spacingAndGlyphs" xml:space="preserve">- 149 000 лв./ 0,43%</text>
<text x="1320.93" y="1272.75" font-size="38.50" font-weight="400" fill="#2a2827" textLength="297.82" lengthAdjust="spacingAndGlyphs" xml:space="preserve">Театър &quot;Възраждане&quot;</text>
<text x="1626.09" y="1272.75" font-size="38.50" font-weight="400" fill="#233a8b" textLength="273.56" lengthAdjust="spacingAndGlyphs" xml:space="preserve">- 148 864 лв./ 0,43%</text>
<text x="1320.23" y="1331.28" font-size="38.50" font-weight="400" fill="#2a2827" textLength="576.50" lengthAdjust="spacingAndGlyphs" xml:space="preserve">ОП &quot;Управление на общински земи и гори&quot;</text>
<text x="1904.69" y="1331.28" font-size="38.50" font-weight="400" fill="#233a8b" textLength="273.16" lengthAdjust="spacingAndGlyphs" xml:space="preserve">- 130 760 лв./ 0,38%</text>
<text x="1320.07" y="1389.81" font-size="38.50" font-weight="400" fill="#2a2827" textLength="484.11" lengthAdjust="spacingAndGlyphs" xml:space="preserve">Столичен дом за радостни обреди</text>
<text x="1810.69" y="1389.81" font-size="38.50" font-weight="400" fill="#233a8b" textLength="273.46" lengthAdjust="spacingAndGlyphs" xml:space="preserve">- 130 000 лв./ 0,37%</text>
<text x="1320.30" y="1448.34" font-size="38.50" font-weight="400" fill="#2a2827" textLength="198.51" lengthAdjust="spacingAndGlyphs" xml:space="preserve">ОП Софияплан</text>
<text x="1525.81" y="1448.34" font-size="38.50" font-weight="400" fill="#233a8b" textLength="268.13" lengthAdjust="spacingAndGlyphs" xml:space="preserve">- 115 905 лв./ 0,33%</text>
<text x="1320.26" y="1506.87" font-size="38.50" font-weight="400" fill="#2a2827" textLength="186.95" lengthAdjust="spacingAndGlyphs" xml:space="preserve">ОКИ &quot;Средец&quot;</text>
<text x="1514.67" y="1506.87" font-size="38.50" font-weight="400" fill="#233a8b" textLength="261.09" lengthAdjust="spacingAndGlyphs" xml:space="preserve">- 70 000 лв./ 0,20%</text>
<text x="1321.39" y="1565.40" font-size="38.50" font-weight="400" fill="#2a2827" textLength="338.85" lengthAdjust="spacingAndGlyphs" xml:space="preserve">Дирекция &quot;Образование&quot;</text>
<text x="1667.69" y="1565.40" font-size="38.50" font-weight="400" fill="#233a8b" textLength="258.17" lengthAdjust="spacingAndGlyphs" xml:space="preserve">- 64 466 лв./ 0,19%</text>
<text x="1317.53" y="1611.60" font-size="38.50" font-weight="400" fill="#2a2827" textLength="957.61" lengthAdjust="spacingAndGlyphs" xml:space="preserve">Център за подкрепа и личностно развитие - „Кариерно ориентиране</text>
<text x="1317.85" y="1653.80" font-size="38.50" font-weight="400" fill="#2a2827" textLength="233.89" lengthAdjust="spacingAndGlyphs" xml:space="preserve">и консултиране“</text>
<text x="1559.80" y="1653.80" font-size="38.50" font-weight="400" fill="#233a8b" textLength="254.84" lengthAdjust="spacingAndGlyphs" xml:space="preserve">- 55 046 лв./ 0,16%</text>
</svg>
</body></html>
